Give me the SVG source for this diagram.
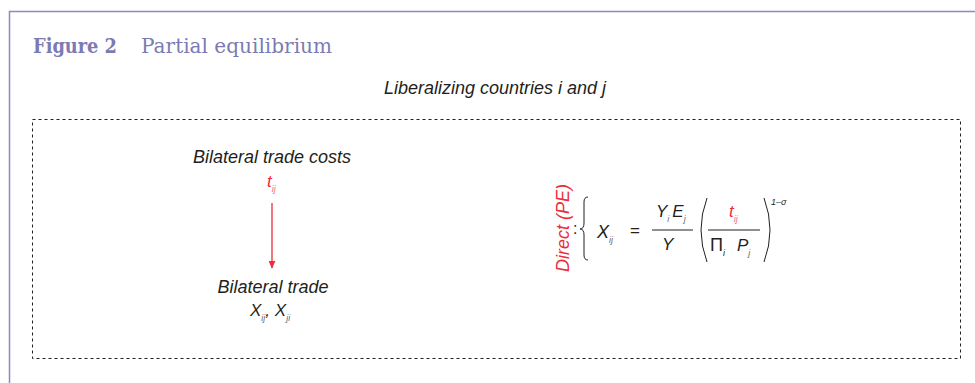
<svg xmlns="http://www.w3.org/2000/svg" width="975" height="383" viewBox="0 0 975 383">
<defs>
<style>
.frame{fill:none;stroke:#8c8cbc;stroke-width:1.5}
.title{font-family:"DejaVu Serif",serif;font-size:20px;fill:#7b7bb3}
.it{font-family:"Liberation Sans",Arial,sans-serif;font-style:italic;font-size:18px;fill:#231f20}
.m{font-family:"Liberation Sans",Arial,sans-serif;font-style:italic;fill:#231f20}
.up{font-style:normal}
.sub{font-size:9px;fill:#6d6e71}
.red{fill:#ec2d3a}
.rsub{font-size:9px;fill:#ef6b73}
.box{fill:none;stroke:#231f20;stroke-width:1;stroke-dasharray:3,3}
.ln{stroke:#231f20;stroke-width:1;fill:none}
</style>
<marker id="ah" viewBox="0 0 10 10" refX="9" refY="5" markerWidth="8" markerHeight="7" orient="auto" markerUnits="userSpaceOnUse" preserveAspectRatio="none">
<path d="M0,0 L10,5 L0,10 z" fill="#ec2d3a"/>
</marker>
</defs>
<rect width="975" height="383" fill="#ffffff"/>
<path class="frame" d="M975,11.5 H9.5 V383"/>
<text class="title" x="33" y="53"><tspan font-weight="bold" textLength="84" lengthAdjust="spacingAndGlyphs">Figure 2</tspan></text>
<text class="title" x="141" y="53" textLength="191" lengthAdjust="spacingAndGlyphs">Partial equilibrium</text>
<text class="it" x="495" y="94" text-anchor="middle">Liberalizing countries i and j</text>
<rect class="box" x="32.5" y="119.5" width="928" height="239"/>
<g id="costs">
<text class="it" x="272" y="163" text-anchor="middle">Bilateral trade costs</text>
<text class="m red" x="267" y="187" font-size="17">t<tspan class="rsub" dy="5">ij</tspan></text>
</g>
<g id="trade">
<text class="it" x="273" y="293" text-anchor="middle">Bilateral trade</text>
<text class="m" x="250" y="316" font-size="17">X<tspan class="sub" dy="5">ij</tspan><tspan dy="-5">, X</tspan><tspan class="sub" dy="5">ji</tspan></text>
</g>
<g id="connectors">
<line x1="272" y1="203" x2="272" y2="268" stroke="#ec2d3a" stroke-width="1.3" marker-end="url(#ah)"/>
</g>
<g id="equation">
<text class="m red" font-size="18" transform="translate(569,228) rotate(-90)" text-anchor="middle">Direct (PE)</text>
<text class="m up" x="573" y="234" font-size="16">:</text>
<path class="ln" d="M588,197 Q584,197 584,202 V223 Q584,229 580,229 Q584,229 584,235 V255 Q584,260 588,260"/>
<text class="m" x="597" y="238" font-size="18">X<tspan class="sub" dy="5">ij</tspan></text>
<text class="m up" x="630" y="236" font-size="17">=</text>
<text class="m" x="656" y="217" font-size="17">Y<tspan class="sub" dy="5">i</tspan><tspan dy="-5" dx="3">E</tspan><tspan class="sub" dy="5">j</tspan></text>
<line class="ln" x1="652" y1="230" x2="693" y2="230"/>
<text class="m" x="662" y="250" font-size="17">Y</text>
<path class="ln" d="M707,198 Q695,230 707,262"/>
<text class="m red" x="729" y="217" font-size="17">t<tspan class="rsub" dy="5">ij</tspan></text>
<line class="ln" x1="708" y1="230" x2="760" y2="230"/>
<text class="m up" x="710" y="251" font-size="18" font-family="'Liberation Serif',serif">Π</text>
<text class="m" x="723" y="256" font-size="9" fill="#6d6e71">i</text>
<text class="m" x="737" y="251" font-size="17">P<tspan class="sub" dy="5">j</tspan></text>
<path class="ln" d="M764,198 Q776,230 764,262"/>
<text class="m" x="771" y="205" font-size="9">1–σ</text>
</g>
</svg>
